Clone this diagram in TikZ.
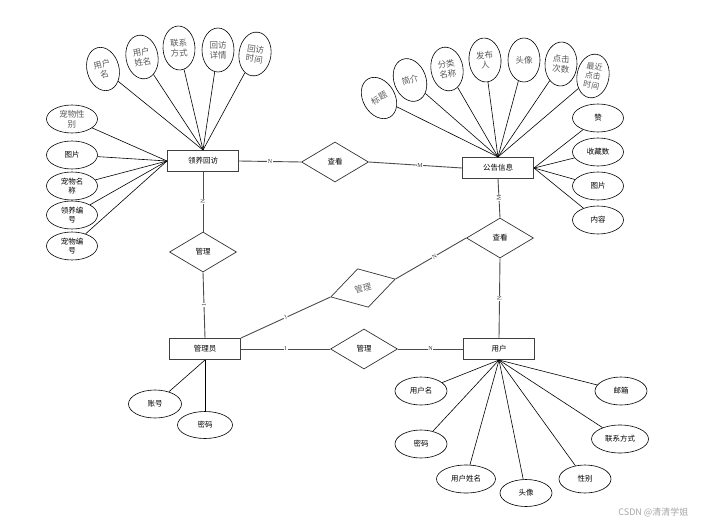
\documentclass[tikz,border=0pt]{standalone}
\usepackage{fontspec}
\setmainfont{Liberation Serif}
\newfontfamily\cjk{Noto Sans CJK SC}
\usetikzlibrary{shapes.geometric}
\begin{document}
\begin{tikzpicture}[x=1pt,y=-1pt,
  ent/.style={draw=black!75, line width=1pt, minimum width=71pt, minimum height=21pt, inner sep=0pt, fill=white, font=\cjk\fontsize{7.5}{9}\selectfont},
  rel/.style={diamond, draw=black!80, line width=0.7pt, minimum width=67pt, minimum height=40pt, inner sep=0pt, font=\cjk\fontsize{7.5}{9}\selectfont},
  attb/.style={ellipse, draw, line width=0.6pt, inner sep=0pt, minimum width=51pt, minimum height=28pt, align=center, font=\cjk\fontsize{7.5}{9}\selectfont},
  attv/.style={ellipse, draw, line width=0.6pt, inner sep=0pt, minimum width=32pt, minimum height=44pt, align=center, text=black!65, font=\cjk\fontsize{8.5}{10}\selectfont},
  attg/.style={attb, text=black!65, font=\cjk\fontsize{8.5}{10}\selectfont},
  link/.style={draw=black!70, line width=0.9pt},
  aline/.style={line width=0.6pt},
  card/.style={font=\fontsize{6}{6}\selectfont, fill=white, inner sep=0.5pt, text=black!80}
]
\useasboundingbox (0,0) rectangle (702,525);

% entities
\node[ent] (lyhf) at (203,161) {领养回访};
\node[ent] (ggxx) at (498,168) {公告信息};
\node[ent] (gly) at (205,349) {管理员};
\node[ent] (yh) at (499,349) {用户};

% relationships
\node[rel] (ck1) at (335,162) {查看};
\node[rel] (ck2) at (500,238) {查看};
\node[rel] (gl1) at (203,252) {管理};
\node[rel] (gl2) at (364,349) {管理};
\node[rel, rotate=15.5, text=black!60, font=\cjk\fontsize{8.5}{10}\selectfont] (tm) at (363,288) {管理};

% relationship connectors
\draw[link] (lyhf.east) -- node[card] {N} (ck1.west);
\draw[link] (ck1.east) -- node[card, pos=0.55] {M} (ggxx.west);
\draw[link] (lyhf.south) -- node[card, rotate=90] {N} (gl1.north);
\draw[link] (gl1.south) -- node[card, rotate=90] {1} (gly.north);
\draw[link] (ggxx.south) -- node[card, rotate=90] {M} (ck2.north);
\draw[link] (ck2.south) -- node[card, rotate=90] {N} (yh.north);
\draw[link] (ck2.west) -- node[card, sloped, pos=0.45] {N} (tm.east);
\draw[link] (tm.west) -- node[card, sloped, pos=0.5] {1} (gly.north east);
\draw[link] (gly.east) -- node[card, pos=0.5] {1} (gl2.west);
\draw[link] (gl2.east) -- node[card, pos=0.5] {N} (yh.west);

% attributes of 领养回访
\node[attv, rotate=15] (a1) at (103,69) {用户\\名};
\node[attv, rotate=10] (a2) at (142,57) {用户\\姓名};
\node[attv, rotate=3] (a3) at (179,48) {联系\\方式};
\node[attv] (a4) at (218,50) {回访\\详情};
\node[attv, rotate=-8] (a5) at (255,54) {回访\\时间};
\node[attg] (a6) at (72,119) {宠物性\\别};
\node[attb] (a7) at (72,155) {图片};
\node[attb] (a8) at (72,186) {宠物名\\称};
\node[attb] (a9) at (72,215) {领养编\\号};
\node[attb] (a10) at (72,246) {宠物编\\号};
\foreach \n in {a1,a2,a3,a4,a5} \draw[aline] (lyhf.north) -- (\n);
\foreach \n in {a6,a7,a8,a9,a10} \draw[aline] (lyhf.west) -- (\n);

% attributes of 公告信息
\node[attv, rotate=30] (b1) at (379,98) {标题};
\node[attv, rotate=20] (b2) at (410,80) {简介};
\node[attv, rotate=10] (b3) at (447,69) {分类\\名称};
\node[attv, rotate=5] (b4) at (485,60) {发布\\人};
\node[attv] (b5) at (524,60) {头像};
\node[attv, rotate=-3] (b6) at (561,64) {点击\\次数};
\node[attv, rotate=-10, font=\cjk\fontsize{8}{9.5}\selectfont] (b7) at (593,76) {最近\\点击\\时间};
\node[attb] (b8) at (598,118) {赞};
\node[attb] (b9) at (598,152) {收藏数};
\node[attb] (b10) at (598,186) {图片};
\node[attb] (b11) at (598,220) {内容};
\foreach \n in {b1,b2,b3,b4,b5,b6,b7} \draw[aline] (ggxx.north) -- (\n);
\foreach \n in {b8,b9,b10,b11} \draw[aline] (ggxx.east) -- (\n);

% attributes of 管理员
\node[attb, minimum width=53pt] (c1) at (155,404) {账号};
\node[attb, minimum width=55pt, minimum height=27pt] (c2) at (205,425) {密码};
\foreach \n in {c1,c2} \draw[aline] (gly.south) -- (\n);

% attributes of 用户
\node[attb, minimum width=52pt] (d1) at (421,391) {用户名};
\node[attb, minimum width=52pt] (d2) at (421,444) {密码};
\node[attb, minimum width=59pt] (d3) at (466,479) {用户姓名};
\node[attb, minimum width=52pt, minimum height=27pt] (d4) at (526,493) {头像};
\node[attb, minimum width=52pt] (d5) at (585,479) {性别};
\node[attb, minimum width=57pt] (d6) at (620,439) {联系方式};
\node[attb, minimum width=52pt] (d7) at (621,391) {邮箱};
\foreach \n in {d1,d2,d3,d4,d5,d6,d7} \draw[aline] (yh.south) -- (\n);

% watermark
\node[text=black!35, font=\cjk\fontsize{9}{10}\selectfont, anchor=east] (wm) at (692,512) {CSDN @清清学姐};
\end{tikzpicture}
\end{document}
